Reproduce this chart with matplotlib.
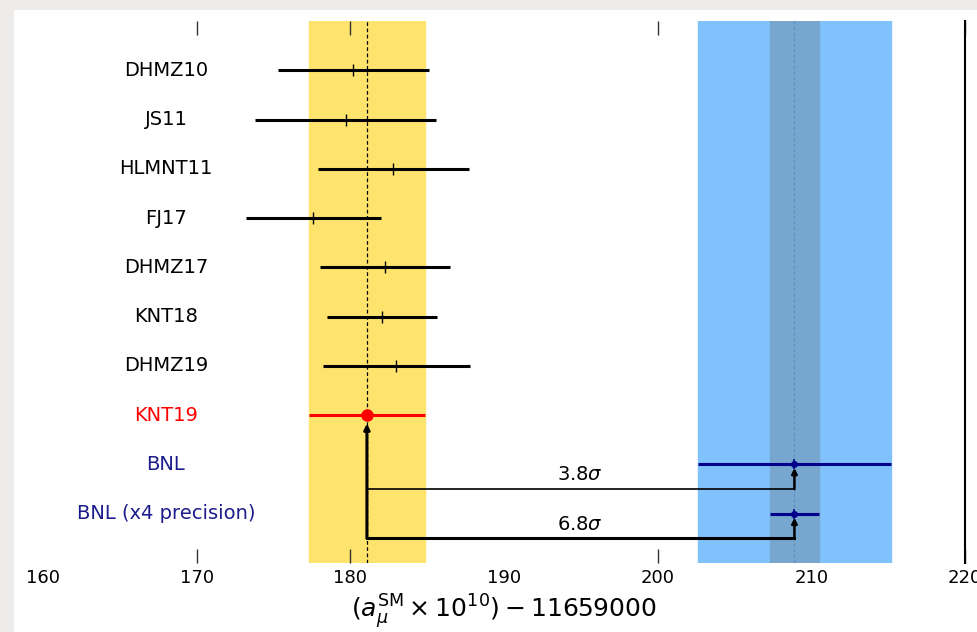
import matplotlib.pyplot as plt
from matplotlib.patches import Rectangle

# a_mu^SM x 10^10 - 11659000
labels = ["DHMZ10", "JS11", "HLMNT11", "FJ17", "DHMZ17", "KNT18", "DHMZ19",
          "KNT19", "BNL", "BNL (x4 precision)"]
centers = [180.2, 179.7, 182.8, 177.6, 182.25, 182.05, 183.0, 181.08, 208.9, 208.9]
errors = [4.9, 5.9, 4.9, 4.4, 4.25, 3.6, 4.8, 3.78, 6.3, 6.3 / 4]
colors = ["black"] * 7 + ["red", "#00008b", "#00008b"]
label_colors = ["black"] * 7 + ["red", "#1c1c8c", "#1c1c8c"]
sigmas = ["3.8$\\sigma$", "6.8$\\sigma$"]
xticks = [160, 170, 180, 190, 200, 210, 220]
tick_marks = [170, 180, 200, 220]

fig = plt.figure(figsize=(9.78, 6.32), dpi=100, facecolor="white")
# grey screenshot border on the left and top
fig.patches.append(Rectangle((0, 0), 14 / 978, 1, transform=fig.transFigure,
                             facecolor="#eeeceb", edgecolor="none", zorder=-1))
fig.patches.append(Rectangle((0, 1 - 10 / 632), 1, 10 / 632, transform=fig.transFigure,
                             facecolor="#eeeceb", edgecolor="none", zorder=-1))
ax = fig.add_axes([43 / 978, 69 / 632, 922 / 978, 542 / 632])
ax.set_facecolor("none")

n = len(labels)
ax.set_xlim(160, 220)
ax.set_ylim(n, -1)

# bands
knt = centers[7]
bnl = centers[8]
ax.axvspan(knt - errors[7], knt + errors[7], color="#fee46c", zorder=1)
ax.axvspan(bnl - errors[8], bnl + errors[8], color="#80c2fc", zorder=1)
ax.axvspan(bnl - errors[9], bnl + errors[9], color="#77a6cf", zorder=1)
ax.axvline(knt, color="black", ls=(0, (3, 2)), lw=0.9, zorder=2)
ax.axvline(bnl, color="#5f8fc0", ls=(0, (3, 2)), lw=0.8, zorder=2)

for i in range(n):
    c, e = centers[i], errors[i]
    ax.plot([c - e, c + e], [i, i], color=colors[i], lw=2.2, zorder=4,
            solid_capstyle="butt")
    if i < 7:
        ax.plot(c, i, marker="|", color="black", ms=9, mew=1.0, zorder=5)
    elif i == 7:
        ax.plot(c, i, marker="o", color="red", ms=8, zorder=5)
    else:
        ax.plot(c, i, marker="o", color=colors[i], ms=4, zorder=5)
        ax.plot(c, i, marker="|", color=colors[i], ms=7, mew=1.2, zorder=5)
    ax.text(168, i, labels[i], color=label_colors[i], fontsize=14,
            ha="center", va="center", zorder=6)

# arrows
ax.plot([knt, bnl], [8.5, 8.5], color="black", lw=1.2, zorder=3)
ax.plot([knt, bnl], [9.5, 9.5], color="black", lw=2.2, zorder=3,
        solid_capstyle="projecting")
arrow_thin = dict(arrowstyle="-|>", color="black", lw=1.8, mutation_scale=8,
                  shrinkA=0, shrinkB=0)
ax.annotate("", xy=(bnl, 8.07), xytext=(bnl, 8.5), arrowprops=arrow_thin, zorder=6)
ax.annotate("", xy=(bnl, 9.08), xytext=(bnl, 9.5), arrowprops=arrow_thin, zorder=6)
ax.annotate("", xy=(knt, 7.17), xytext=(knt, 9.5),
            arrowprops=dict(arrowstyle="-|>", color="black", lw=2.2,
                            mutation_scale=8, shrinkA=0, shrinkB=0), zorder=6)
ax.text(194.9, 8.2, sigmas[0], fontsize=14, ha="center", va="center")
ax.text(194.9, 9.22, sigmas[1], fontsize=14, ha="center", va="center")

# axes styling
for s in ["left", "top", "bottom"]:
    ax.spines[s].set_visible(False)
ax.spines["right"].set_linewidth(1.5)
ax.set_yticks([])
ax.xaxis.remove_overlapping_locs = False
ax.set_xticks(xticks)
ax.set_xticklabels([str(t) for t in xticks])
ax.tick_params(axis="x", which="major", length=0, labelsize=13, pad=4)
ax.set_xticks(tick_marks, minor=True)
ax.tick_params(axis="x", which="minor", direction="in", length=10, width=1,
               top=True, bottom=True, color="#333333")
ax.set_xlabel("$(a_{\\mu}^{\\rm SM} \\times 10^{10}) - 11659000$", fontsize=18, labelpad=4)

fig.savefig("out.png", dpi=100, facecolor=fig.get_facecolor())
